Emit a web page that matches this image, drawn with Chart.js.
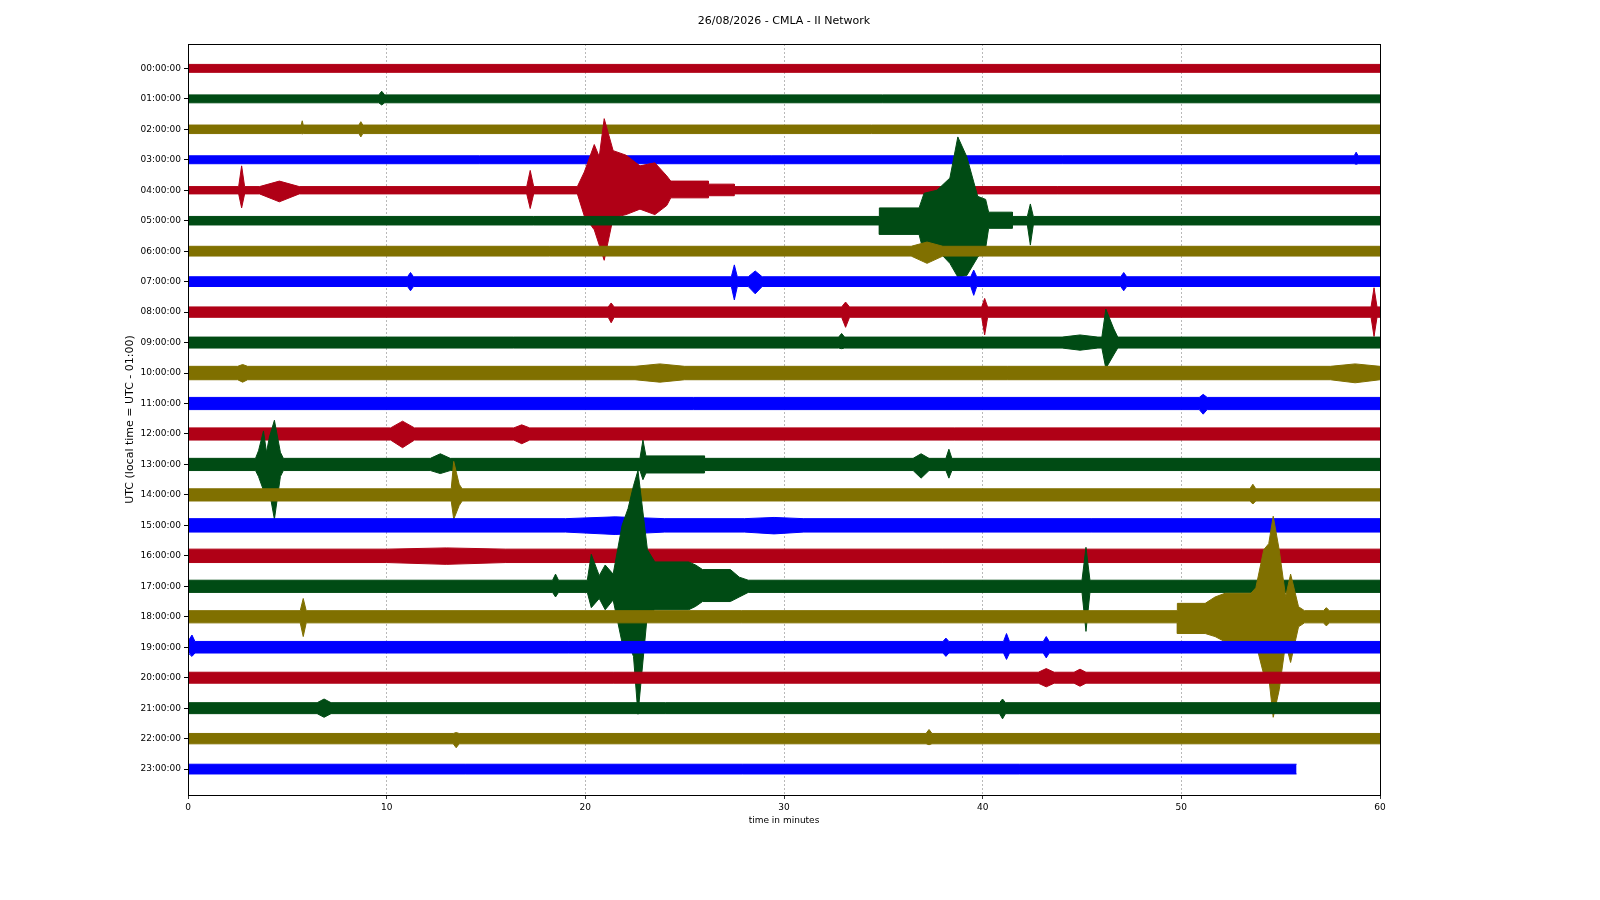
<!DOCTYPE html>
<html>
<head>
<meta charset="utf-8">
<title>CMLA helicorder</title>
<script src="https://cdn.jsdelivr.net/npm/chart.js@4.4.1/dist/chart.umd.min.js"></script>
<style>
  body { margin: 0; background: #fff; }
  #wrap { width: 1600px; height: 900px; }
</style>
</head>
<body>
<div id="wrap"><canvas id="myChart" width="1600" height="900"></canvas></div>
<script>
// hour rows of the helicorder (one trace per hour, 60 minutes each)
var hourLabels = ['00:00:00','01:00:00','02:00:00','03:00:00','04:00:00','05:00:00',
  '06:00:00','07:00:00','08:00:00','09:00:00','10:00:00','11:00:00',
  '12:00:00','13:00:00','14:00:00','15:00:00','16:00:00','17:00:00',
  '18:00:00','19:00:00','20:00:00','21:00:00','22:00:00','23:00:00']

var minuteTicks = [0, 10, 20, 30, 40, 50, 60]

var chartTitle = '26/08/2026 - CMLA - II Network'

// background noise half width of each trace, in trace spacings
var noiseHalfWidth = [0.13, 0.13, 0.14, 0.13, 0.12, 0.14, 0.16, 0.16, 0.17, 0.18, 0.22, 0.2,
  0.2, 0.2, 0.2, 0.22, 0.22, 0.2, 0.2, 0.19, 0.18, 0.18, 0.17, 0.16]

// minute where each trace stops
var traceEnd = [60, 60, 60, 60, 60, 60, 60, 60, 60, 60, 60, 60,
  60, 60, 60, 60, 60, 60, 60, 60, 60, 60, 60, 55.8]

// [trace, from minute, to minute, amplitude up, amplitude down]
var events = [
  [1, 9.6, 9.9, 0.25, 0.2],
  [2, 5.7, 5.8, 0.28, 0.15], [2, 8.6, 8.8, 0.25, 0.25],
  [3, 58.7, 58.9, 0.25, 0.15],
  [4, 2.55, 2.85, 0.8, 0.58], [4, 3.6, 5.6, 0.3, 0.38], [4, 17.05, 17.4, 0.65, 0.6],
  [4, 19.6, 20.3, 0.6, 0.85], [4, 20.3, 20.6, 1.5, 1.3], [4, 20.6, 20.8, 1.1, 1.8],
  [4, 20.8, 21.1, 2.35, 2.3], [4, 21.1, 21.7, 1.3, 0.9], [4, 21.7, 22.4, 1.15, 0.8],
  [4, 22.4, 23.1, 0.8, 0.62], [4, 23.1, 23.9, 0.9, 0.8], [4, 23.9, 24.3, 0.47, 0.5],
  [4, 24.3, 26.2, 0.3, 0.25], [4, 26.2, 27.5, 0.2, 0.18],
  [5, 34.8, 36.8, 0.42, 0.45], [5, 36.8, 37.3, 0.9, 1.1], [5, 37.3, 38.1, 1.0, 0.95],
  [5, 38.1, 38.6, 1.4, 1.4], [5, 38.6, 38.9, 2.75, 1.85], [5, 38.9, 39.5, 2.1, 1.8],
  [5, 39.5, 40.0, 0.8, 1.2], [5, 40.0, 40.3, 0.7, 0.9], [5, 40.3, 41.5, 0.28, 0.25],
  [5, 42.25, 42.55, 0.55, 0.8],
  [6, 36.4, 38.0, 0.3, 0.4],
  [7, 11.05, 11.35, 0.3, 0.3], [7, 27.35, 27.65, 0.55, 0.6], [7, 28.2, 28.9, 0.35, 0.4],
  [7, 39.4, 39.7, 0.38, 0.45], [7, 46.95, 47.25, 0.3, 0.3],
  [8, 21.15, 21.45, 0.3, 0.35], [8, 32.9, 33.3, 0.33, 0.5], [8, 39.95, 40.25, 0.45, 0.75],
  [8, 59.55, 59.85, 0.8, 0.8],
  [9, 32.75, 33.05, 0.3, 0.2], [9, 44.0, 45.8, 0.25, 0.25], [9, 46.0, 46.4, 1.1, 0.85],
  [9, 46.4, 46.8, 0.45, 0.4],
  [10, 2.5, 3.0, 0.28, 0.3], [10, 22.5, 25.0, 0.3, 0.3], [10, 57.5, 60, 0.3, 0.32],
  [11, 50.9, 51.3, 0.3, 0.35],
  [12, 10.2, 11.4, 0.42, 0.45], [12, 16.4, 17.2, 0.3, 0.32],
  [13, 3.4, 3.7, 0.45, 0.4], [13, 3.7, 3.9, 1.1, 0.85], [13, 3.9, 4.0, 0.4, 0.9],
  [13, 4.0, 4.2, 0.9, 0.9], [13, 4.2, 4.5, 1.45, 1.8], [13, 4.5, 4.8, 0.4, 0.4],
  [13, 12.2, 13.2, 0.35, 0.3], [13, 22.75, 23.05, 0.8, 0.5], [13, 23.05, 26.0, 0.28, 0.28],
  [13, 36.5, 37.3, 0.35, 0.45], [13, 38.15, 38.45, 0.5, 0.45],
  [14, 13.25, 13.5, 1.1, 0.8], [14, 13.5, 13.8, 0.35, 0.35], [14, 53.45, 53.75, 0.35, 0.3],
  [15, 19.0, 24.0, 0.28, 0.3], [15, 28, 31, 0.26, 0.28],
  [16, 10.0, 16.0, 0.26, 0.28],
  [17, 18.35, 18.65, 0.4, 0.35], [17, 20.1, 20.5, 1.05, 0.7], [17, 20.5, 20.9, 0.35, 0.4],
  [17, 20.9, 21.1, 0.7, 0.77], [17, 21.1, 21.7, 0.4, 0.45], [17, 21.7, 22.0, 2.0, 1.85],
  [17, 22.0, 22.3, 2.55, 1.85], [17, 22.3, 22.55, 3.3, 2.3], [17, 22.55, 22.75, 3.8, 4.2],
  [17, 22.75, 23.5, 1.2, 0.9], [17, 23.5, 25.2, 0.8, 0.77], [17, 25.2, 25.9, 0.7, 0.66],
  [17, 25.9, 27.3, 0.55, 0.5], [17, 27.3, 28.2, 0.3, 0.35], [17, 45.0, 45.4, 1.28, 1.48],
  [18, 5.65, 5.95, 0.6, 0.65], [18, 49.8, 51.2, 0.44, 0.55], [18, 51.2, 52.2, 0.65, 0.65],
  [18, 52.2, 53.5, 0.77, 0.82], [18, 53.5, 54.0, 0.95, 0.87], [18, 54.0, 54.3, 2.2, 1.9],
  [18, 54.3, 54.5, 2.4, 1.97], [18, 54.5, 54.75, 3.3, 3.3], [18, 54.75, 55.1, 2.2, 2.4],
  [18, 55.1, 55.4, 0.66, 0.87], [18, 55.4, 55.6, 1.4, 1.5], [18, 55.6, 56.2, 0.33, 0.33],
  [18, 57.15, 57.45, 0.3, 0.3],
  [19, 0.05, 0.35, 0.4, 0.3], [19, 38.0, 38.3, 0.3, 0.3], [19, 41.05, 41.35, 0.45, 0.4],
  [19, 43.05, 43.35, 0.35, 0.35],
  [20, 42.8, 43.6, 0.3, 0.3], [20, 44.6, 45.2, 0.28, 0.28],
  [21, 6.5, 7.2, 0.3, 0.3], [21, 40.85, 41.15, 0.3, 0.35],
  [22, 13.35, 13.65, 0.2, 0.3], [22, 37.15, 37.45, 0.3, 0.2]
]

var colorCycle = ['#b00016', '#004b14', '#807000', '#0000ff']

// build an upper and a lower outline for every trace, filled between them
var datasets = []
for (var i = 0; i < hourLabels.length; i++) {
  var base = noiseHalfWidth[i]
  var evs = events.filter(function (e) { return e[0] === i })
  evs.sort(function (a, b) { return a[1] - b[1] })

  var upper = []
  var lower = []
  var add = function (x, u, d) {
    upper.push({x: x, y: i - u})
    lower.push({x: x, y: i + d})
  }

  add(0, base, base)
  for (var k = 0; k < evs.length; k++) {
    var e = evs[k]
    var prev = evs[k - 1]
    var next = evs[k + 1]
    var joinPrev = prev && prev[2] >= e[1]
    var joinNext = next && next[1] <= e[2]
    if (!joinPrev) add(e[1], base, base)
    if (e[2] - e[1] <= 1.0 || (!joinPrev && !joinNext)) {
      // burst: one peak in the middle of its span
      add((e[1] + e[2]) / 2, e[3], e[4])
    } else {
      add(e[1], e[3], e[4])
      add(e[2], e[3], e[4])
    }
    if (!joinNext) add(e[2], base, base)
  }
  add(traceEnd[i], base, base)

  var col = colorCycle[i % colorCycle.length]
  datasets.push({
    data: upper,
    borderColor: col,
    backgroundColor: col,
    borderWidth: 1,
    pointRadius: 0,
    fill: '+1',
    order: 100 - i
  })
  datasets.push({
    data: lower,
    borderColor: col,
    backgroundColor: col,
    borderWidth: 1,
    pointRadius: 0,
    fill: false,
    order: 100 - i
  })
}

// box around the plot and the title centred over it
var framePlugin = {
  id: 'frame',
  afterDraw: function (chart) {
    var a = chart.chartArea
    var ctx = chart.ctx
    ctx.save()
    ctx.strokeStyle = '#000'
    ctx.lineWidth = 1
    ctx.strokeRect(Math.round(a.left) + 0.5, Math.round(a.top) + 0.5,
      Math.round(a.right - a.left), Math.round(a.bottom - a.top))
    ctx.fillStyle = '#000'
    ctx.font = '11px "DejaVu Sans"'
    ctx.textAlign = 'center'
    ctx.textBaseline = 'middle'
    ctx.fillText(chartTitle, (a.left + a.right) / 2, 21)
    ctx.restore()
  }
}

var ctx = document.getElementById('myChart').getContext('2d')
var chart = new Chart(ctx, {
  type: 'line',
  data: { datasets: datasets },
  plugins: [framePlugin],
  options: {
    responsive: false,
    animation: false,
    layout: { padding: { left: 120, right: 220, top: 44, bottom: 72 } },
    elements: { line: { tension: 0 } },
    plugins: {
      legend: { display: false },
      tooltip: { enabled: false },
      title: { display: false }
    },
    scales: {
      x: {
        type: 'linear',
        min: 0,
        max: 60,
        afterFit: function (s) { s.height = 33 },
        afterBuildTicks: function (s) {
          s.ticks = minuteTicks.map(function (v) { return {value: v} })
        },
        ticks: {
          color: '#000',
          maxRotation: 0,
          padding: 3,
          font: { family: 'DejaVu Sans', size: 9 }
        },
        grid: {
          drawOnChartArea: true,
          drawTicks: true,
          tickLength: 4,
          tickColor: '#000',
          tickBorderDash: [],
          lineWidth: 0.8,
          color: function (c) {
            var v = c.tick ? c.tick.value : 0
            return (v > 0 && v < 60) ? '#a8a8a8' : 'rgba(0,0,0,0)'
          }
        },
        border: { display: false, dash: [2, 2] },
        title: {
          display: true,
          text: 'time in minutes',
          color: '#000',
          padding: { top: 2, bottom: 2 },
          font: { family: 'DejaVu Sans', size: 9 }
        }
      },
      y: {
        type: 'linear',
        reverse: true,
        min: -0.8,
        max: 23.85,
        afterFit: function (s) { s.width = 68 },
        afterBuildTicks: function (s) {
          s.ticks = hourLabels.map(function (_, idx) { return {value: idx} })
        },
        ticks: {
          autoSkip: false,
          color: '#000',
          padding: 3,
          font: { family: 'DejaVu Sans', size: 9 },
          callback: function (v) { return hourLabels[v] }
        },
        grid: {
          drawOnChartArea: false,
          drawTicks: true,
          tickLength: 4,
          tickColor: '#000'
        },
        border: { display: false },
        title: {
          display: true,
          text: 'UTC (local time = UTC - 01:00)',
          color: '#000',
          padding: { top: 4, bottom: 4 },
          font: { family: 'DejaVu Sans', size: 11 }
        }
      }
    }
  }
})
</script>
</body>
</html>
